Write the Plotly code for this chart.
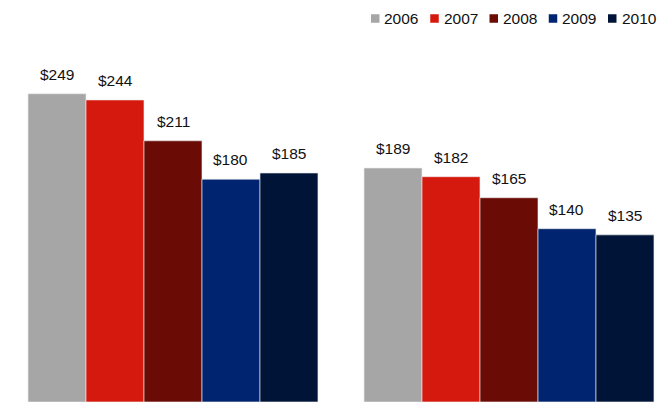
import plotly.graph_objects as go

categories = ["Group 1", "Group 2"]
years = ["2006", "2007", "2008", "2009", "2010"]
values = {
    "2006": [249, 189],
    "2007": [244, 182],
    "2008": [211, 165],
    "2009": [180, 140],
    "2010": [185, 135],
}
colors = ["#a6a6a6", "#d6190e", "#6a0b05", "#00246f", "#001438"]

FONT = "Liberation Sans, Arial, Helvetica, sans-serif"
W, H = 664, 402
bargap = 0.137
n = len(years)
bw = (1 - bargap) / n

fig = go.Figure()
for i, (y, c) in enumerate(zip(years, colors)):
    fig.add_trace(go.Bar(
        x=categories, y=values[y], name=y,
        marker=dict(color=c, line=dict(color="rgba(235,235,235,0.8)", width=0.8)),
        showlegend=False,
    ))
    for j, v in enumerate(values[y]):
        fig.add_annotation(
            x=j + (i - (n - 1) / 2) * bw, y=v, xref="x", yref="y",
            text=f"${v}", showarrow=False, yanchor="bottom", yshift=9,
            font=dict(family=FONT, size=15.5, color="#111111"),
        )

# legend (top right): colored square + label
leg_x0, leg_step, sq = 371, 59.25, 8.5
leg_cy = 18.5
for i, (y, c) in enumerate(zip(years, colors)):
    sx = leg_x0 + i * leg_step
    fig.add_shape(
        type="rect", xref="paper", yref="paper",
        x0=sx / W, x1=(sx + sq) / W,
        y0=1 - (leg_cy + sq / 2) / H, y1=1 - (leg_cy - sq / 2) / H,
        fillcolor=c, line=dict(width=0),
    )
    fig.add_annotation(
        x=(sx + sq + 3) / W, y=1 - (leg_cy + 0.5) / H, xref="paper", yref="paper",
        xanchor="left", yanchor="middle", showarrow=False, text=y,
        font=dict(family=FONT, size=15.5, color="#111111"),
    )

fig.update_layout(
    width=W, height=H,
    margin=dict(l=0, r=0, t=0, b=0),
    paper_bgcolor="white", plot_bgcolor="white",
    barmode="group", bargap=bargap, bargroupgap=0,
    showlegend=False,
    xaxis=dict(visible=False, range=[-173 / 336, 1 + (W - 509) / 336]),
    yaxis=dict(visible=False, range=[0, 402 / 1.238]),
)

fig.write_html("out.html")
